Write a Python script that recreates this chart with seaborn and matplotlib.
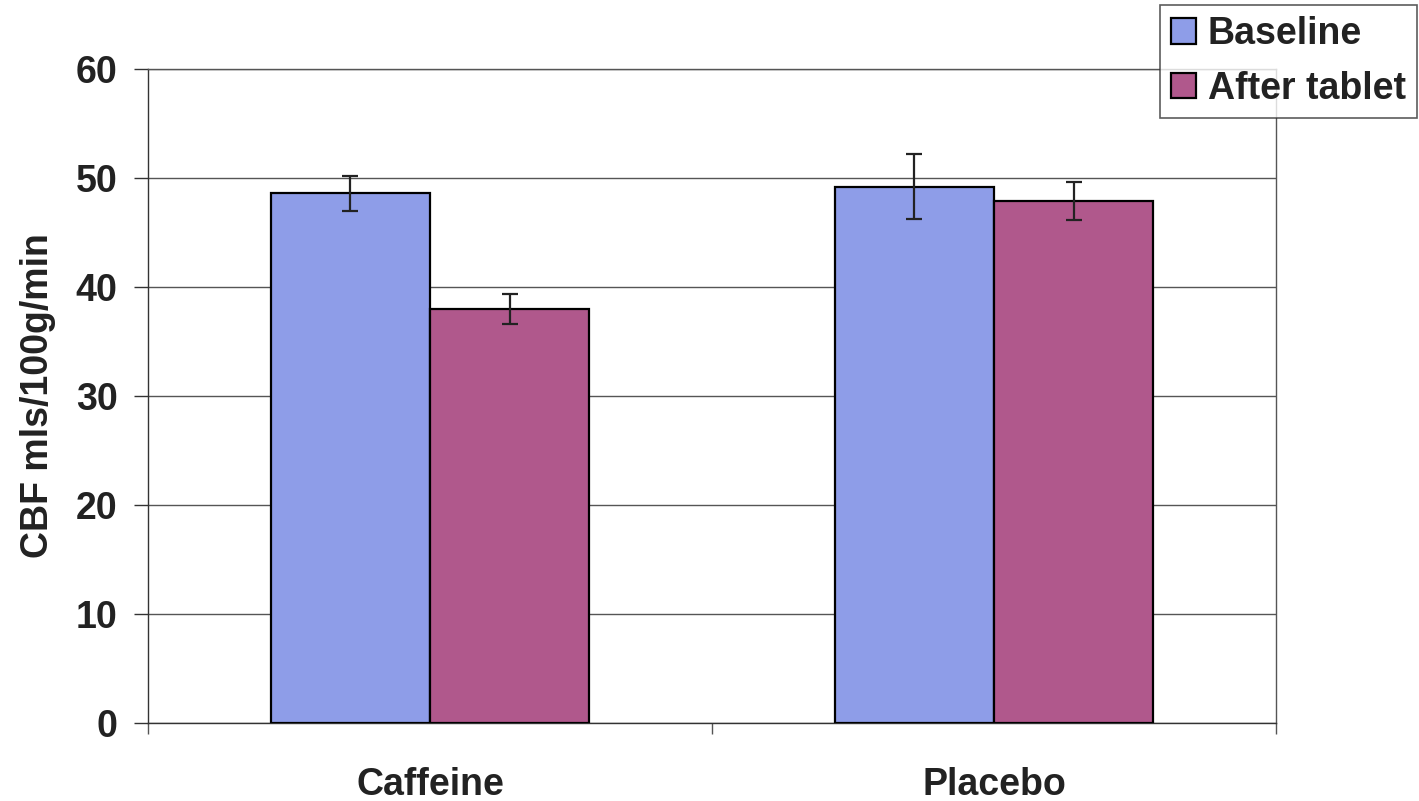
import pandas as pd
import matplotlib.pyplot as plt
import seaborn as sns

# values
groups = ['Caffeine', 'Placebo']
conditions = ['Baseline', 'After tablet']
baseline = [48.6, 49.2]
after_tablet = [38.0, 47.9]
baseline_err = [1.6, 3.0]
after_err = [1.4, 1.75]

df = pd.DataFrame({
    'group': groups * 2,
    'condition': [conditions[0]] * 2 + [conditions[1]] * 2,
    'cbf': baseline + after_tablet,
})
errs = {conditions[0]: baseline_err, conditions[1]: after_err}

sns.set_style('white')
plt.rcParams['font.family'] = ['Liberation Sans', 'DejaVu Sans']
plt.rcParams['font.weight'] = 'bold'

fig = plt.figure(figsize=(14.19, 8.01), dpi=100)
ax = fig.add_axes([0.1043, 0.0974, 0.7949, 0.8165])

palette = {'Baseline': '#8e9de8', 'After tablet': '#b0588c'}
sns.barplot(data=df, x='group', y='cbf', hue='condition', hue_order=conditions,
            palette=palette, width=0.565, errorbar=None, edgecolor='black',
            linewidth=1.6, saturation=1, ax=ax, zorder=3)

# error bars at the centres of the drawn bars
for cont, cond in zip(ax.containers, conditions):
    xs = [b.get_x() + b.get_width() / 2 for b in cont]
    ys = [b.get_height() for b in cont]
    ax.errorbar(xs, ys, yerr=errs[cond], fmt='none', ecolor='#222222',
                elinewidth=1.6, capsize=6, capthick=1.6, zorder=4)

ax.set_ylim(0, 60)
ax.set_xlim(-0.5, 1.5)
ax.set_yticks(range(0, 61, 10))
ax.yaxis.grid(True, color='#555555', linewidth=1.0)
ax.set_axisbelow(True)
for s in ax.spines.values():
    s.set_visible(True)
    s.set_color('#555555')
    s.set_linewidth(1.0)
ax.spines['left'].set_color('#333333')
ax.spines['bottom'].set_color('#333333')

ax.set_xticks([-0.5, 0.5, 1.5], minor=True)
ax.tick_params(axis='x', which='minor', bottom=True, length=8, width=1, color='#555555',
               direction='out')
ax.tick_params(axis='x', which='major', bottom=True, length=0, pad=32, labelsize=27)
ax.tick_params(axis='y', which='major', left=True, length=10, width=1, color='#333333',
               pad=12, labelsize=27)
for lbl in ax.get_xticklabels() + ax.get_yticklabels():
    lbl.set_fontweight('bold')
    lbl.set_color('#222222')

ax.set_xlabel('')
ax.set_ylabel('CBF mls/100g/min', fontsize=27, fontweight='bold', labelpad=14, color='#222222')

leg = ax.legend(loc='upper right', bbox_to_anchor=(1.125, 1.098), frameon=True, fancybox=False,
                edgecolor='#333333', fontsize=27, handlelength=0.67, handleheight=0.67,
                handletextpad=0.3, borderpad=0.3, labelspacing=0.5, borderaxespad=0)
leg.get_frame().set_linewidth(1.2)
for t in leg.get_texts():
    t.set_fontweight('bold')
    t.set_color('#222222')

fig.savefig('out.png', dpi=100, facecolor='white')
